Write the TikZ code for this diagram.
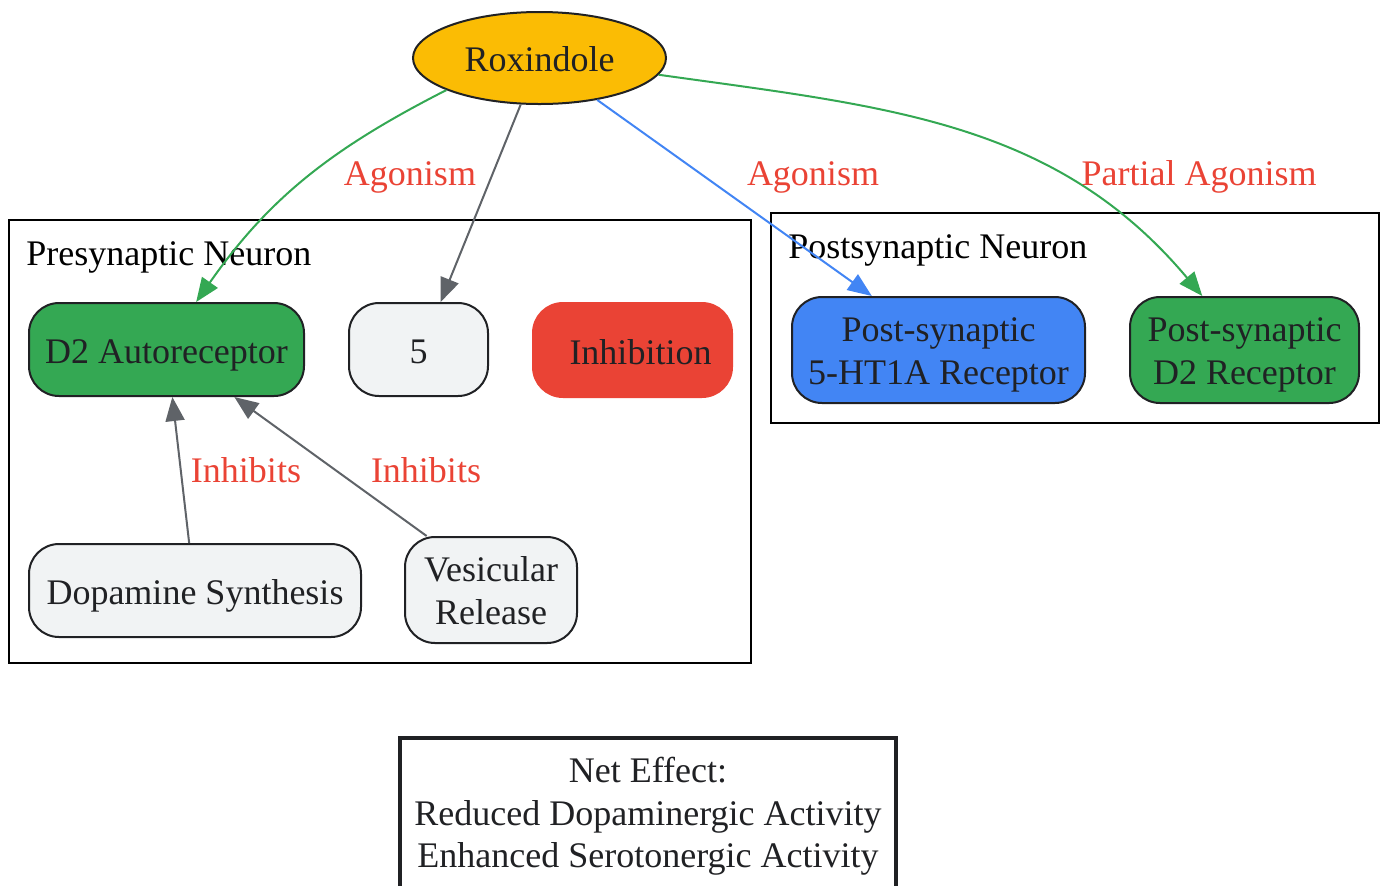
\documentclass[tikz,border=0pt]{standalone}
\usepackage{fontspec}
\setmainfont{Liberation Serif}
\usetikzlibrary{shapes.geometric,arrows.meta}
\definecolor{ink}{HTML}{202124}
\definecolor{ggreen}{HTML}{34A853}
\definecolor{gblue}{HTML}{4285F4}
\definecolor{gred}{HTML}{EA4335}
\definecolor{ggrey}{HTML}{F1F3F4}
\definecolor{dgrey}{HTML}{5F6368}
\definecolor{gyellow}{HTML}{FBBC04}
\newcommand{\nodefont}{\fontsize{18}{21.25}\selectfont}
\begin{document}
\begin{tikzpicture}[x=0.5pt,y=0.5pt]
  %
  \tikzstyle{n} = [rectangle, draw=ink, line width=1pt, rounded corners=15pt, align=center, text=ink, font=\nodefont, text height=14pt, text depth=0pt]
  \tikzstyle{nn} = [n, text height=34pt]
  \tikzstyle{e} = [line width=1pt, -{Triangle[length=12pt,width=9.5pt]}]
  \tikzstyle{l} = [text=gred, font=\nodefont, inner sep=0pt, anchor=base]
  \tikzstyle{c} = [draw=black, line width=1.2pt]
  \useasboundingbox (0,0) rectangle (1387,-885);
  % clusters
  \draw[c] (9,-220) rectangle (751,-663);
  \draw[c] (771,-213) rectangle (1379,-423);
  \node[anchor=base west, font=\nodefont, inner sep=0pt] (pretitle) at (26,-265) {Presynaptic Neuron};
  \node[anchor=base west, font=\nodefont, inner sep=0pt] (posttitle) at (788,-258) {Postsynaptic Neuron};
  % nodes
  \node[ellipse, draw=ink, line width=1pt, fill=gyellow, minimum width=126.5pt, minimum height=46pt, font=\nodefont, text=ink, text height=13pt, text depth=0pt] (rox) at (539.5,-58) {Roxindole};
  \node[n, fill=ggreen, minimum width=137.5pt, minimum height=46.5pt] (d2auto) at (166.5,-349.5) {D2 Autoreceptor};
  \node[n, fill=ggrey, minimum width=69.5pt, minimum height=46.5pt] (five) at (418.5,-349.5) {5};
  \node[n, fill=gred, draw=gred, minimum width=99.5pt, minimum height=47pt] (inhib) at (632.5,-350) {\hspace*{8pt}Inhibition};
  \node[n, fill=ggrey, minimum width=166pt, minimum height=46.5pt] (dasynth) at (195,-590.5) {Dopamine Synthesis};
  \node[nn, fill=ggrey, minimum width=86pt, minimum height=53pt] (vesrel) at (491,-590) {Vesicular\\Release};
  \node[nn, fill=gblue, minimum width=146.5pt, minimum height=53pt] (ht1a) at (938.5,-350) {Post-synaptic\\5-HT1A Receptor};
  \node[nn, fill=ggreen, minimum width=114.5pt, minimum height=53pt] (postd2) at (1244.5,-350) {Post-synaptic\\D2 Receptor};
  \node[draw=ink, line width=2pt, minimum width=248pt, minimum height=75pt, align=center, font=\nodefont, text=ink, text height=54.5pt, text depth=0pt] (net) at (648,-813) {Net Effect:\\Reduced Dopaminergic Activity\\Enhanced Serotonergic Activity};
  % edges
  \draw[e, ggreen] (rox.199) to[out=207, in=55] (d2auto.58);
  \draw[e, dgrey] (rox.248) -- (five.65);
  \draw[e, gblue] (rox.324) -- (ht1a.141);
  \draw[e, ggreen] (rox.352) to[out=-8, in=130] (postd2.128);
  \draw[e, dgrey] (dasynth.97) -- (d2auto.277);
  \draw[e, dgrey] (vesrel.140) -- (d2auto.325);
  % edge labels
  \node[l] (lagon1) at (410,-185) {Agonism};
  \node[l] (lagon2) at (813,-185) {Agonism};
  \node[l] (lpartial) at (1199,-185) {Partial Agonism};
  \node[l] (linh1) at (246,-482) {Inhibits};
  \node[l] (linh2) at (426,-482) {Inhibits};
\end{tikzpicture}
\end{document}
